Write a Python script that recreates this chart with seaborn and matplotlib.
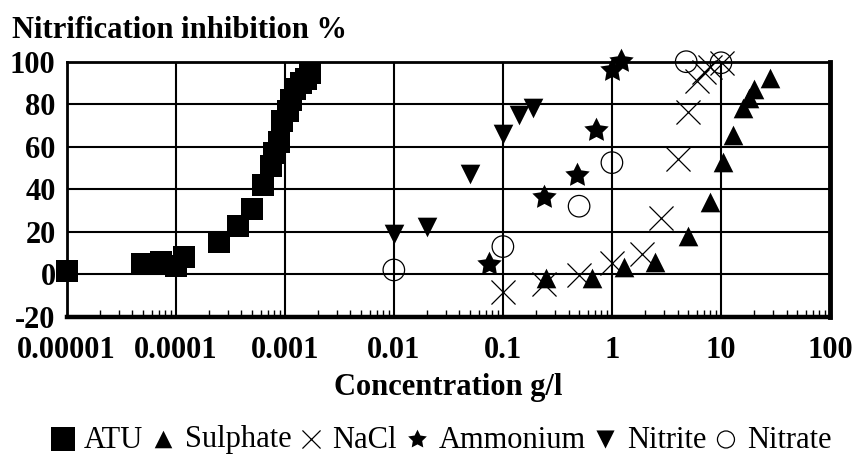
import matplotlib
matplotlib.use("Agg")
import matplotlib.pyplot as plt
import seaborn as sns
from matplotlib.path import Path
from matplotlib.ticker import FixedLocator, LogLocator, NullFormatter

# Concentration (g/l) and nitrification inhibition (%) per compound
atu_conc = [1e-5, 4.9e-5, 7.3e-5, 1.0e-4, 1.2e-4, 2.5e-4, 3.7e-4, 5.0e-4, 6.3e-4,
            7.4e-4, 8.0e-4, 8.8e-4, 9.5e-4, 1.07e-3, 1.15e-3, 1.25e-3, 1.4e-3,
            1.55e-3, 1.72e-3]
atu_inh = [1.4, 4.7, 5.6, 4.0, 8.0, 15, 22.5, 30.5, 42, 51, 57, 62, 72, 77, 82,
           87, 90, 92, 94.5]

sulphate_conc = [0.25, 0.65, 1.3, 2.5, 5, 8, 10.5, 13, 16, 18, 20, 28]
sulphate_inh = [-2, -2, 3.3, 5.6, 18, 34, 53, 65.5, 78, 83, 87, 92.4]

nacl_conc = [0.1, 0.24, 0.5, 1, 1.9, 2.8, 4, 5, 6, 7, 8, 10.3]
nacl_inh = [-8.3, -4.8, -0.5, 5.5, 9.5, 26.5, 54, 76.5, 91, 95, 97.5, 99.5]

ammonium_conc = [0.075, 0.24, 0.48, 0.72, 1.0, 1.2]
ammonium_inh = [5, 36.5, 46.5, 68, 96, 100.5]

nitrite_conc = [0.01, 0.02, 0.05, 0.1, 0.14, 0.19]
nitrite_inh = [19, 22, 47, 66, 75, 78]

nitrate_conc = [0.01, 0.1, 0.5, 1.0, 4.8, 10]
nitrate_inh = [2, 13, 32, 52.5, 100, 99.5]

x_ticks = [1e-5, 1e-4, 1e-3, 1e-2, 1e-1, 1, 10, 100]
x_tick_labels = ["0.00001", "0.0001", "0.001", "0.01", "0.1", "1", "10", "100"]
y_ticks = [-20, 0, 20, 40, 60, 80, 100]

sns.set_theme(style="white")
plt.rcParams["font.family"] = ["Liberation Serif", "DejaVu Serif"]
for key in ("text.color", "axes.labelcolor", "xtick.color", "ytick.color"):
    plt.rcParams[key] = "black"

fig = plt.figure(figsize=(8.64, 4.67), dpi=100)
ax = fig.add_axes([66.7 / 864, 1 - 316.7 / 467, (830 - 66.7) / 864, (316.7 - 61.7) / 467])

fat_star = Path.unit_regular_star(5, 0.5)

common = dict(ax=ax, color="black", clip_on=False, zorder=4)
sns.scatterplot(x=atu_conc, y=atu_inh, marker="s", s=250, linewidth=0, label="ATU", **common)
sns.scatterplot(x=sulphate_conc, y=sulphate_inh, marker="^", s=200, linewidth=0, label="Sulphate", **common)
sns.scatterplot(x=nacl_conc, y=nacl_inh, marker="x", s=300, linewidth=0.9, label="NaCl", **common)
sns.scatterplot(x=ammonium_conc, y=ammonium_inh, marker=fat_star, s=340, linewidth=0, label="Ammonium", **common)
sns.scatterplot(x=nitrite_conc, y=nitrite_inh, marker="v", s=200, linewidth=0, label="Nitrite", **common)
circ = sns.scatterplot(x=nitrate_conc, y=nitrate_inh, marker="o", s=240, linewidth=0.9,
                       facecolor="none", edgecolor="black", label="Nitrate", ax=ax,
                       clip_on=False, zorder=4)
circ.collections[-1].set_facecolor("none")
circ.collections[-1].set_edgecolor("black")

ax.set_xscale("log")
ax.set_xlim(1e-5, 100)
ax.set_ylim(-20, 100)

ax.xaxis.set_major_locator(FixedLocator(x_ticks))
ax.set_xticklabels(x_tick_labels, fontsize=22, fontweight="bold")
ax.xaxis.set_minor_locator(LogLocator(base=10, subs=range(2, 10), numticks=20))
ax.xaxis.set_minor_formatter(NullFormatter())
ax.set_yticks(y_ticks)
ax.set_yticklabels([str(v) for v in y_ticks], fontsize=22, fontweight="bold")

ax.tick_params(axis="x", which="major", length=0, pad=14, colors="black")
ax.tick_params(axis="x", which="minor", direction="in", length=5, width=1,
               bottom=True, top=False, color="black")
ax.tick_params(axis="y", which="both", length=0, pad=8, colors="black")

ax.grid(True, which="major", color="black", linewidth=1.5)
ax.set_axisbelow(True)
for side, lw in {"top": 2, "left": 2, "right": 3.5, "bottom": 3.2}.items():
    ax.spines[side].set_color("black")
    ax.spines[side].set_linewidth(lw)
    ax.spines[side].set_visible(True)

ax.set_xlabel("")
ax.set_ylabel("")

fig.text(12 / 864, 1 - 31 / 467, "Nitrification inhibition %", fontsize=22,
         fontweight="bold", ha="left", va="center", color="black")
fig.text(448 / 864, 1 - 388 / 467, "Concentration g/l", fontsize=22,
         fontweight="bold", ha="center", va="center", color="black")

handles, labels = ax.get_legend_handles_labels()
if ax.get_legend() is not None:
    ax.get_legend().remove()
leg = fig.legend(handles, labels, loc="center", bbox_to_anchor=(442 / 864, 1 - 440 / 467),
                 ncol=6, frameon=False, fontsize=22, handlelength=0.7,
                 handletextpad=0.35, columnspacing=0.3, borderpad=0,
                 labelcolor="black")
legend_sizes = [300, 160, 170, 200, 170, 150]
for h, sz in zip(leg.legend_handles, legend_sizes):
    h.set_sizes([sz])

fig.savefig("out.png", dpi=100)
